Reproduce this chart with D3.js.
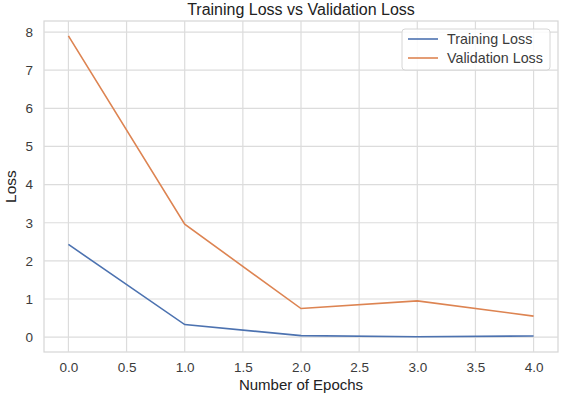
<!DOCTYPE html>
<html>
<head>
<meta charset="utf-8">
<script src="https://cdn.jsdelivr.net/npm/d3@7"></script>
<style>
  body { margin: 0; background: #fff; }
  text { font-family: "Liberation Sans", Arial, sans-serif; }
</style>
</head>
<body>
<svg id="chart" width="563" height="394"></svg>
<script>
const epochs = [0, 1, 2, 3, 4];
const trainingLoss = [2.43, 0.33, 0.04, 0.01, 0.03];
const validationLoss = [7.9, 2.96, 0.75, 0.95, 0.55];
const xTicks = [0, 0.5, 1, 1.5, 2, 2.5, 3, 3.5, 4];
const yTicks = [0, 1, 2, 3, 4, 5, 6, 7, 8];
const seriesNames = ["Training Loss", "Validation Loss"];
const colors = ["#4c72b0", "#dd8452"];

const margin = {top: 21, right: 5, bottom: 42, left: 44};
const width = 563, height = 394;

let svg = d3.select("#chart");

let x = d3.scaleLinear().domain([-0.21, 4.21]).range([margin.left, width - margin.right]);
let y = d3.scaleLinear().domain([-0.39, 8.29]).range([height - margin.bottom, margin.top]);

// plot frame
svg.append("rect")
    .attr("x", margin.left).attr("y", margin.top)
    .attr("width", width - margin.left - margin.right)
    .attr("height", height - margin.top - margin.bottom)
    .attr("fill", "#fff").attr("stroke", "#d6d6d6").attr("stroke-width", 1.2);

// grid
svg.append("g").selectAll("line.vx").data(xTicks).enter().append("line")
    .attr("x1", d => x(d)).attr("x2", d => x(d))
    .attr("y1", margin.top).attr("y2", height - margin.bottom)
    .attr("stroke", "#dcdcdc").attr("stroke-width", 1.2);
svg.append("g").selectAll("line.hy").data(yTicks).enter().append("line")
    .attr("y1", d => y(d)).attr("y2", d => y(d))
    .attr("x1", margin.left).attr("x2", width - margin.right)
    .attr("stroke", "#dcdcdc").attr("stroke-width", 1.2);

// axes (labels only)
let xAxis = svg.append("g")
    .attr("transform", "translate(0," + (height - margin.bottom) + ")")
    .call(d3.axisBottom(x).tickValues(xTicks).tickFormat(d3.format(".1f")).tickSize(0).tickPadding(10));
let yAxis = svg.append("g")
    .attr("transform", "translate(" + margin.left + ",0)")
    .call(d3.axisLeft(y).tickValues(yTicks).tickFormat(d3.format("d")).tickSize(0).tickPadding(11));
[xAxis, yAxis].forEach(a => {
    a.select(".domain").remove();
    a.selectAll("text").attr("fill", "#3b3b3b").style("font-size", "13.5px")
        .style("font-family", "'Liberation Sans', Arial, sans-serif");
});

// lines
let line = d3.line().x((d, i) => x(epochs[i])).y(d => y(d));
[trainingLoss, validationLoss].forEach((series, i) => {
    svg.append("path")
        .datum(series)
        .attr("fill", "none")
        .attr("stroke", colors[i])
        .attr("stroke-width", 1.6)
        .attr("d", line);
});

// title and axis labels
svg.append("text").attr("x", (margin.left + width - margin.right) / 2).attr("y", 15)
    .attr("text-anchor", "middle").attr("fill", "#222").style("font-size", "16px")
    .text("Training Loss vs Validation Loss");
svg.append("text").attr("x", (margin.left + width - margin.right) / 2).attr("y", 390)
    .attr("text-anchor", "middle").attr("fill", "#222").style("font-size", "15px")
    .text("Number of Epochs");
svg.append("text").attr("transform", "translate(16," + ((margin.top + height - margin.bottom) / 2) + ") rotate(-90)")
    .attr("text-anchor", "middle").attr("fill", "#222").style("font-size", "15.5px")
    .text("Loss");

// legend
let legend = svg.append("g").attr("transform", "translate(402,29)");
legend.append("rect").attr("width", 148).attr("height", 41).attr("rx", 3)
    .attr("fill", "#fff").attr("fill-opacity", 0.85).attr("stroke", "#d6d6d6");
seriesNames.forEach((name, i) => {
    let g = legend.append("g").attr("transform", "translate(0," + (10 + i * 19) + ")");
    g.append("line").attr("x1", 6).attr("x2", 36).attr("y1", 0).attr("y2", 0)
        .attr("stroke", colors[i]).attr("stroke-width", 1.6);
    g.append("text").attr("x", 45).attr("y", 5).attr("fill", "#3b3b3b")
        .style("font-size", "14.3px").text(name);
});
</script>
</body>
</html>
